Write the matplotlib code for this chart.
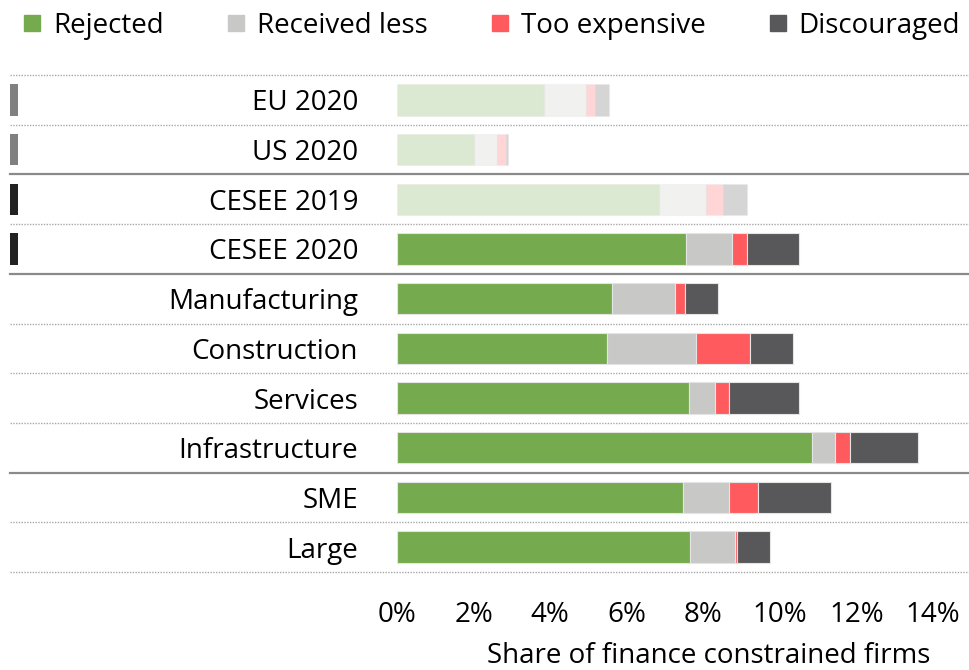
import numpy as np
import matplotlib.pyplot as plt
from matplotlib.lines import Line2D

plt.rcParams['font.family'] = ['Open Sans', 'DejaVu Sans']

# datos (porcentaje de empresas)
categorias = ['EU 2020', 'US 2020', 'CESEE 2019', 'CESEE 2020', 'Manufacturing',
              'Construction', 'Services', 'Infrastructure', 'SME', 'Large']
rechazadas = [3.84, 2.00, 6.85, 7.56, 5.62, 5.49, 7.62, 10.85, 7.47, 7.65]
recibio_menos = [1.09, 0.60, 1.23, 1.18, 1.64, 2.31, 0.69, 0.60, 1.19, 1.19]
muy_caro = [0.23, 0.24, 0.43, 0.40, 0.25, 1.41, 0.37, 0.38, 0.78, 0.05]
desanimadas = [0.39, 0.07, 0.63, 1.37, 0.87, 1.12, 1.82, 1.79, 1.90, 0.86]
series = ['Rejected', 'Received less', 'Too expensive', 'Discouraged']
colores = ['#75aa4f', '#c8c8c6', '#ff5b5f', '#58585a']
transparentes = [0, 1, 2]  # filas atenuadas
marcas = {0: '#808080', 1: '#808080', 2: '#222222', 3: '#222222'}
lineas_solidas = [1.5, 3.5, 7.5]

fig = plt.figure(figsize=(9.69, 6.70), dpi=100)
ax = fig.add_axes([397/969, 1-572/670, 1-397/969, (572-75)/670])

y = np.arange(len(categorias))
datos = [rechazadas, recibio_menos, muy_caro, desanimadas]
izq = np.zeros(len(categorias))
for serie, valores, color in zip(series, datos, colores):
    valores = np.array(valores)
    alfas = [0.25 if i in transparentes else 1.0 for i in y]
    for i in y:
        ax.barh(i, valores[i], left=izq[i], height=0.63, color=color,
                alpha=alfas[i], edgecolor='#e4e4e4', linewidth=0.8)
    izq += valores

ax.set_ylim(len(categorias) - 0.5, -0.5)
ax.set_xlim(0, 14 + 36/38.3)
ax.set_yticks(y)
ax.set_yticklabels(categorias, fontsize=20)
ax.set_xticks(np.arange(0, 15, 2))
ax.set_xticklabels([f'{v}%' for v in range(0, 15, 2)], fontsize=20)
ax.tick_params(axis='y', length=0, pad=28)
ax.tick_params(axis='x', length=0, pad=21)
ax.set_xlabel('Share of finance constrained firms', fontsize=20, va='center')
ax.xaxis.set_label_coords(0.545, -(656-572)/497)
for s in ax.spines.values():
    s.set_visible(False)

# separadores entre filas
x_ini = (10 - 397) / (969 - 397)
for b in np.arange(-0.5, len(categorias), 1.0):
    if b in lineas_solidas:
        ax.axhline(b, xmin=x_ini, xmax=1, color='#8a8a8a', lw=1.6, clip_on=False)
    else:
        ax.axhline(b, xmin=x_ini, xmax=1, color='#a8a8a8', lw=1.0,
                   ls=(0, (1, 1)), clip_on=False)

# marcas a la izquierda
for i, c in marcas.items():
    ax.barh(i, 8/38.3, left=-387/38.3, height=0.63, color=c, clip_on=False)

handles = [Line2D([], [], marker='s', ls='', color=c, markersize=12) for c in colores]
fig.legend(handles, series, loc='upper center', bbox_to_anchor=(0.505, 1.02), ncol=4,
           frameon=False, fontsize=20, handletextpad=0.25, columnspacing=2.1,
           handlelength=1.0)

fig.savefig('out.png', dpi=100)
